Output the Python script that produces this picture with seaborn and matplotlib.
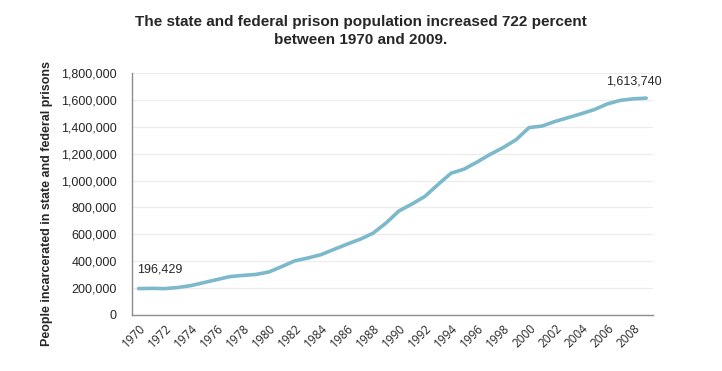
import matplotlib.pyplot as plt
import matplotlib.ticker as mticker
import pandas as pd
import seaborn as sb

# state + federal prison population, 1970-2009
years = list(range(1970, 2010))
population = [196429, 198061, 196183, 204211, 218466, 240593, 262833, 285456, 294396, 301470,
              319598, 360029, 402914, 423898, 448264, 487593, 526436, 562814, 607766, 683367,
              773919, 825559, 882500, 970444, 1054702, 1085022, 1137722, 1194581, 1245402, 1304074,
              1394231, 1406031, 1440144, 1468601, 1497100, 1527929, 1569945, 1596835, 1608282, 1613740]
x_ticks = list(range(1970, 2010, 2))
y_ticks = list(range(0, 1800001, 200000))

title = "The state and federal prison population increased 722 percent\nbetween 1970 and 2009."
y_label = "People incarcerated in state and federal prisons"


def show_report():
    sb.set_style("white")
    plt.rcParams['font.family'] = ['Liberation Sans', 'DejaVu Sans']

    df = pd.DataFrame({"year": years, "population": population})

    fig = plt.figure(figsize=(7.22, 3.71), dpi=100)
    ax = fig.add_axes([0.183, 0.151, 0.721, 0.652])

    # light horizontal grid
    for y in y_ticks[1:]:
        ax.axhline(y, color='#ececec', linewidth=0.9, zorder=0)

    sb.lineplot(x='year', y='population', data=df, color='#7bb9cb', linewidth=2.6, ax=ax)

    ax.set_xlim(1969.5, 2009.5)
    ax.set_ylim(0, 1800000)
    ax.set_xticks(x_ticks)
    ax.set_yticks(y_ticks)
    ax.yaxis.set_major_formatter(mticker.FuncFormatter(lambda v, p: f"{int(v):,}"))
    ax.tick_params(axis='both', length=0)
    ax.tick_params(axis='y', labelsize=9, pad=11)
    ax.tick_params(axis='x', pad=5)
    for lbl in ax.get_xticklabels():
        lbl.set_rotation(45)
        lbl.set_ha('right')
        lbl.set_rotation_mode('anchor')
        lbl.set_fontsize(8.5)
        lbl.set_family(['Open Sans', 'DejaVu Sans'])

    for side in ['top', 'right']:
        ax.spines[side].set_visible(False)
    for side in ['left', 'bottom']:
        ax.spines[side].set_color('#8c8c8c')
        ax.spines[side].set_linewidth(1.0)

    ax.set_xlabel('')
    ax.set_ylabel(y_label, fontsize=9, fontweight='bold')
    ax.yaxis.set_label_coords(-0.152, 0.46)

    # end-point labels
    ax.annotate(f"{population[0]:,}", (years[0], population[0]), xytext=(-1, 14),
                textcoords='offset points', ha='left', va='center', fontsize=9)
    ax.annotate(f"{population[-1]:,}", (years[-1], population[-1]), xytext=(11, 12),
                textcoords='offset points', ha='right', va='center', fontsize=9)

    fig.suptitle(title, x=0.5, y=0.96, fontsize=11, fontweight='bold', va='top', linespacing=1.35)
    fig.savefig('out.png', dpi=100, facecolor='white')


if __name__ == '__main__':
    show_report()
